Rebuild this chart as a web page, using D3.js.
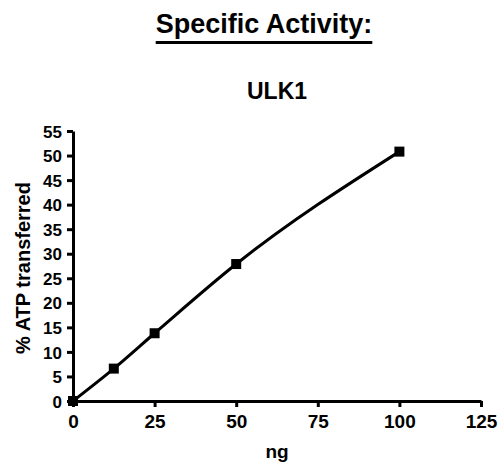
<!DOCTYPE html>
<html>
<head>
<meta charset="utf-8">
<script src="https://cdn.jsdelivr.net/npm/d3@7"></script>
<style>
  body { margin: 0; background: #fff; }
  text { font-family: "Liberation Sans", Arial, sans-serif; font-weight: bold; }
</style>
</head>
<body>
<div id="chart"></div>
<script>
// Data
const amounts = [0, 12.5, 25, 50, 100];
const transferred = [0, 6.6, 13.8, 27.9, 50.8];
const xTicks = [0, 25, 50, 75, 100, 125];
const yTicks = [0, 5, 10, 15, 20, 25, 30, 35, 40, 45, 50, 55];

const width = 500, height = 464;
const plotLeft = 73, plotRight = 481, plotTop = 131, plotBottom = 401;

const svg = d3.select("#chart").append("svg")
  .attr("width", width).attr("height", height);

const x = d3.scaleLinear().domain([0, 125]).range([plotLeft, plotRight]);
const y = d3.scaleLinear().domain([0, 55]).range([plotBottom, plotTop]);

// Titles
const title = svg.append("text")
  .attr("x", 264).attr("y", 33)
  .attr("text-anchor", "middle")
  .style("font-size", "27px")
  .text("Specific Activity:");
const tb = title.node().getBBox();
svg.append("line")
  .attr("x1", tb.x).attr("x2", tb.x + tb.width)
  .attr("y1", 42.5).attr("y2", 42.5)
  .attr("stroke", "#000").attr("stroke-width", 3);

svg.append("text")
  .attr("x", (plotLeft + plotRight) / 2).attr("y", 99)
  .attr("text-anchor", "middle")
  .style("font-size", "23px")
  .text("ULK1");

// Axes
const xAxis = svg.append("g")
  .attr("transform", "translate(0," + plotBottom + ")")
  .call(d3.axisBottom(x).tickValues(xTicks).tickSize(6).tickPadding(8).tickSizeOuter(0));
const yAxis = svg.append("g")
  .attr("transform", "translate(" + plotLeft + ",0)")
  .call(d3.axisLeft(y).tickValues(yTicks).tickSize(6).tickPadding(5).tickSizeOuter(0));

[xAxis, yAxis].forEach(g => {
  g.select(".domain").attr("stroke-width", 3).attr("stroke", "#000");
  g.selectAll(".tick line").attr("stroke-width", 3).attr("stroke", "#000");
  g.selectAll(".tick text")
    .style("font-family", "'Liberation Sans', Arial, sans-serif")
    .style("font-weight", "bold")
    .attr("fill", "#000");
});
xAxis.selectAll(".tick text").style("font-size", "19px");
yAxis.selectAll(".tick text").style("font-size", "17px").attr("dy", "0.36em");

// Axis labels
svg.append("text")
  .attr("x", (plotLeft + plotRight) / 2).attr("y", 458)
  .attr("text-anchor", "middle")
  .style("font-size", "19px")
  .text("ng");
svg.append("text")
  .attr("transform", "translate(30,268) rotate(-90)")
  .attr("text-anchor", "middle")
  .style("font-size", "20px")
  .text("% ATP transferred");

// Fit curve through points
const pts = amounts.map((a, i) => [a, transferred[i]]);
svg.append("path")
  .datum(pts)
  .attr("fill", "none")
  .attr("stroke", "#000")
  .attr("stroke-width", 3)
  .attr("d", d3.line().x(d => x(d[0])).y(d => y(d[1])).curve(d3.curveMonotoneX));

// Markers
svg.selectAll("rect.pt")
  .data(pts).enter()
  .append("rect")
  .attr("class", "pt")
  .attr("x", d => x(d[0]) - 5)
  .attr("y", d => y(d[1]) - 5)
  .attr("width", 10).attr("height", 10)
  .attr("fill", "#000");
</script>
</body>
</html>
